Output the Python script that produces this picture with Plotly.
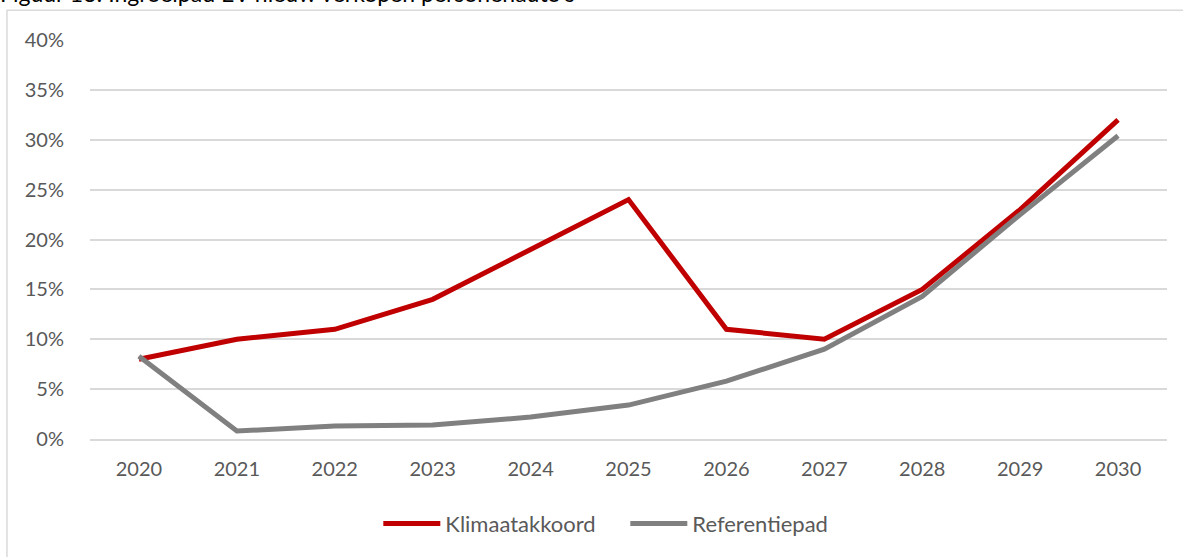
import plotly.graph_objects as go

# Data
years = ["2020", "2021", "2022", "2023", "2024", "2025", "2026", "2027", "2028", "2029", "2030"]
klimaatakkoord = [8, 10, 11, 14, 19, 24, 11, 10, 15, 23, 32]
referentiepad = [8.3, 0.8, 1.3, 1.4, 2.2, 3.4, 5.8, 9.0, 14.3, 22.5, 30.4]
y_ticks = [0, 5, 10, 15, 20, 25, 30, 35, 40]

FONT = "Lato, 'Open Sans', sans-serif"
TICK_COLOR = "#595959"

fig = go.Figure()

fig.add_trace(go.Scatter(
    x=years, y=klimaatakkoord, mode="lines", name="Klimaatakkoord",
    line=dict(color="#C00000", width=5),
))
fig.add_trace(go.Scatter(
    x=years, y=referentiepad, mode="lines", name="Referentiepad",
    line=dict(color="#808080", width=5),
))

# chart frame (light grey box, runs off the right/bottom edge)
fig.add_shape(
    type="rect", xref="paper", yref="paper",
    x0=-0.0771, x1=1.1, y0=-0.5, y1=1.0748,
    line=dict(color="#D9D9D9", width=1.5), layer="below",
)

# partially clipped caption at the very top
fig.add_annotation(
    text="Figuur 13: Ingroeipad EV nieuw verkopen personenauto's",
    xref="paper", yref="paper", x=-0.0854, y=1.078,
    xanchor="left", yanchor="bottom", showarrow=False,
    font=dict(family=FONT, size=23, color="#000000"),
)

fig.update_layout(
    width=1183, height=557,
    margin=dict(l=90, r=16, t=40, b=116),
    paper_bgcolor="white", plot_bgcolor="white",
    font=dict(family=FONT, size=20, color=TICK_COLOR),
    showlegend=True,
    legend=dict(
        orientation="h", x=0.2677, y=-0.212, xanchor="left", yanchor="middle",
        font=dict(family=FONT, size=22, color=TICK_COLOR),
        itemwidth=57, entrywidth=175, bgcolor="rgba(0,0,0,0)",
    ),
    xaxis=dict(
        type="category", range=[-0.5, 10.5],
        showgrid=False, showline=True, linecolor="#D9D9D9", linewidth=2,
        ticks="outside", ticklen=11, tickcolor="rgba(0,0,0,0)",
        tickfont=dict(family=FONT, size=20, color=TICK_COLOR),
    ),
    yaxis=dict(
        range=[0, 40], tickvals=y_ticks,
        ticktext=[f"{v}%" for v in y_ticks],
        showgrid=True, gridcolor="#D9D9D9", gridwidth=1.5,
        zeroline=False, showline=False,
        ticks="outside", ticklen=21, tickcolor="rgba(0,0,0,0)",
        tickfont=dict(family=FONT, size=20, color=TICK_COLOR),
    ),
)

# drop the default page margin so the figure sits at the window's corner
fig.write_html(
    "out.html",
    config={"displayModeBar": False},
    post_script="document.body.style.margin='0';",
)
